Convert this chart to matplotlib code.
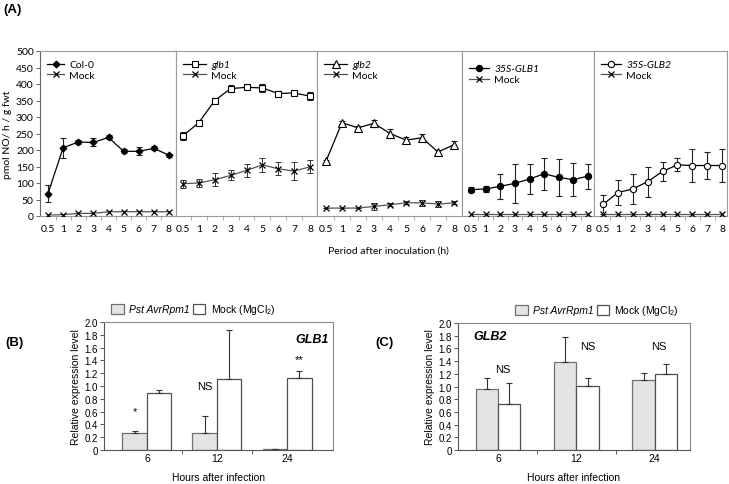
import matplotlib
matplotlib.use('Agg')
import matplotlib.pyplot as plt
import numpy as np
from matplotlib.patches import Patch
from matplotlib.lines import Line2D

plt.rcParams['mathtext.fontset'] = 'custom'
plt.rcParams['mathtext.rm'] = 'Liberation Sans'

W, H = 729, 485
fig = plt.figure(figsize=(W / 100, H / 100), dpi=100)


def rect(x0, y0, x1, y1):
    return [x0 / W, 1 - y1 / H, (x1 - x0) / W, (y1 - y0) / H]


# ---------------- data ----------------
time_labels = ['0.5', '1', '2', '3', '4', '5', '6', '7', '8']

col0 = [68, 207, 224, 223, 238, 196, 196, 205, 184]
col0_err = [25, 30, 6, 12, 6, 6, 12, 6, 4]
col0_mock = [3, 4, 8, 8, 13, 13, 13, 13, 13]

glb1 = [243, 283, 350, 386, 390, 388, 371, 373, 363]
glb1_err = [12, 5, 8, 10, 5, 12, 8, 4, 12]
glb1_mock = [98, 100, 110, 123, 138, 155, 143, 136, 149]
glb1_mock_err = [12, 12, 20, 15, 20, 22, 20, 28, 20]

glb2 = [166, 283, 267, 281, 250, 230, 237, 194, 216]
glb2_err = [4, 5, 7, 10, 15, 8, 10, 5, 10]
glb2_mock = [24, 24, 24, 29, 34, 40, 40, 36, 40]
glb2_mock_err = [0, 0, 0, 10, 4, 5, 10, 10, 5]

ox1 = [80, 82, 90, 99, 112, 128, 117, 110, 121]
ox1_err = [8, 10, 38, 60, 45, 48, 55, 50, 38]
ox1_mock = [5, 5, 5, 5, 5, 5, 5, 5, 5]

ox2 = [35, 71, 82, 104, 135, 155, 153, 153, 153]
ox2_err = [30, 38, 45, 45, 30, 20, 50, 42, 50]
ox2_mock = [5, 5, 5, 5, 5, 5, 5, 5, 5]

hours = ['6', '12', '24']
glb1_pst = [0.26, 0.26, 0.01]
glb1_pst_err = [0.03, 0.27, 0.0]
glb1_mgcl = [0.89, 1.11, 1.12]
glb1_mgcl_err = [0.05, 0.77, 0.11]
glb1_sig = ['*', 'NS', '**']

glb2_pst = [0.96, 1.39, 1.11]
glb2_pst_err = [0.18, 0.39, 0.11]
glb2_mgcl = [0.72, 1.01, 1.19]
glb2_mgcl_err = [0.33, 0.13, 0.17]
glb2_sig = ['NS', 'NS', 'NS']

# ---------------- panel A ----------------
fontA = 'Lato'
fsA = 7.5
frame_col = '#9a9a9a'

panels = [
    # name, values, err, mock, mock_err, marker, mfc, ms, frame x0, x1, first pt px, last pt px, handlelen, legend y
    ('Col-0', col0, col0_err, col0_mock, None, 'D', 'black', 3.5, 40, 176, 48, 169, 1.6, 0.99),
    ('glb1', glb1, glb1_err, glb1_mock, glb1_mock_err, 's', 'white', 5, 176, 317, 183, 310, 2.2, 0.99),
    ('glb2', glb2, glb2_err, glb2_mock, glb2_mock_err, '^', 'white', 5.5, 317, 462, 326, 454, 2.2, 0.99),
    ('35S-GLB1', ox1, ox1_err, ox1_mock, None, 'o', 'black', 4.5, 462, 594, 471, 588, 1.9, 0.965),
    ('35S-GLB2', ox2, ox2_err, ox2_mock, None, 'o', 'white', 4.5, 594, 727, 603, 722, 1.9, 0.99),
]

pos = np.arange(len(time_labels))
for i, (name, vals, err, mock, merr, mk, mfc, ms, fx0, fx1, p0, p8, hl, ly) in enumerate(panels):
    ax = fig.add_axes(rect(fx0, 52, fx1, 217))
    sc = (p8 - p0) / 8.0
    ax.set_xlim((fx0 - p0) / sc, (fx1 - p0) / sc)
    ax.set_ylim(0, 500)
    # mock
    if merr is not None:
        ax.errorbar(pos, mock, yerr=merr, fmt='none', ecolor='#333333',
                    elinewidth=0.7, capsize=2, capthick=0.7, zorder=2)
    ax.plot(pos, mock, color='#555555', lw=0.9, marker='x', ms=4.5,
            mec='black', mew=0.9, zorder=3)
    # main
    ax.errorbar(pos, vals, yerr=err, fmt='none', ecolor='#222222',
                elinewidth=0.8, capsize=2, capthick=0.8, zorder=4)
    ax.plot(pos, vals, color='black', lw=0.9, marker=mk, ms=ms, mfc=mfc,
            mec='black', mew=0.8, zorder=5)

    h1 = Line2D([], [], color='black', lw=0.9, marker=mk, ms=ms, mfc=mfc, mec='black', mew=0.8)
    h2 = Line2D([], [], color='#555555', lw=0.9, marker='x', ms=4.5, mec='black', mew=0.9)
    leg = ax.legend([h1, h2], [name, 'Mock'], loc='upper left',
                    bbox_to_anchor=(0.0, ly), borderaxespad=0.3, borderpad=0.4,
                    frameon=False, handlelength=hl, handletextpad=0.5,
                    labelspacing=0.15, prop={'family': fontA, 'size': fsA})
    if i > 0:
        for t in leg.get_texts()[:1]:
            t.set_fontstyle('italic')

    for s in ax.spines.values():
        s.set_color(frame_col)
        s.set_linewidth(0.8)
    ax.set_xticks(pos)
    ax.set_xticklabels(time_labels, family=fontA, fontsize=fsA)
    ax.set_xticks(pos[:-1] + 0.5, minor=True)
    ax.tick_params(axis='x', which='major', length=0, pad=6)
    ax.tick_params(axis='x', which='minor', length=3, color=frame_col, width=0.6)
    if i == 0:
        ax.set_yticks(np.arange(0, 501, 50))
        ax.tick_params(axis='y', length=3, color='#666666', width=0.7, pad=1.5,
                       labelsize=fsA)
        for t in ax.get_yticklabels():
            t.set_family(fontA)
        ax.spines['left'].set_color('#666666')
        ax.set_ylabel('pmol NO/ h / g fwt', family=fontA, fontsize=fsA, labelpad=3)
    else:
        ax.set_yticks([])

fig.text(388 / W, 1 - 251 / H, 'Period after inoculation (h)', family=fontA,
         fontsize=fsA, ha='center', va='center')

# ---------------- panels B & C ----------------
fontB = 'Liberation Sans'
gray_fill = '#e4e4e4'


def bar_panel(ax, pst, pst_err, mgcl, mgcl_err, sig, sig_pos, gene, gene_pos, width, xlim, leg_x):
    x = np.arange(len(hours))
    ax.bar(x - width / 2, pst, width, color=gray_fill, edgecolor='#707070', lw=0.9, zorder=2)
    ax.bar(x + width / 2, mgcl, width, color='white', edgecolor='#505050', lw=0.9, zorder=2)
    ax.errorbar(x - width / 2, pst, yerr=[np.zeros(len(x)), pst_err], fmt='none',
                ecolor='#333333', elinewidth=0.8, capsize=2.5, capthick=0.8, zorder=3)
    ax.errorbar(x + width / 2, mgcl, yerr=[np.zeros(len(x)), mgcl_err], fmt='none',
                ecolor='#333333', elinewidth=0.8, capsize=2.5, capthick=0.8, zorder=3)
    for xi, (s, (dx, yy)) in enumerate(zip(sig, sig_pos)):
        ax.text(xi + dx, yy, s, family=fontB, fontsize=8, ha='center', va='center')
    ax.text(gene_pos[0], gene_pos[1], gene, family=fontB, fontsize=9,
            fontweight='bold', fontstyle='italic', ha='center', va='center')
    ax.set_xlim(*xlim)
    ax.set_ylim(0, 2.0)
    ax.set_yticks(np.arange(0, 2.01, 0.2))
    ax.set_yticklabels(['0'] + ['%.1f' % v for v in np.arange(0.2, 2.01, 0.2)])
    ax.set_xticks(x)
    ax.set_xticklabels(hours)
    ax.set_xticks(x[:-1] + 0.5, minor=True)
    ax.tick_params(axis='x', which='major', length=0, pad=2, labelsize=7.5)
    ax.tick_params(axis='x', which='minor', length=3, width=0.7, color='#555555')
    ax.tick_params(axis='y', length=3, width=0.7, color='#555555', pad=1.5, labelsize=7)
    for t in ax.get_xticklabels() + ax.get_yticklabels():
        t.set_family(fontB)
    for k, s in ax.spines.items():
        s.set_linewidth(0.8)
        s.set_color('#555555' if k in ('left', 'bottom') else '#8a8a8a')
    ax.set_ylabel('Relative expression level', family=fontB, fontsize=7.5, labelpad=2)
    ax.set_xlabel('Hours after infection', family=fontB, fontsize=7.5, labelpad=7)
    handles = [Patch(facecolor=gray_fill, edgecolor='#707070', lw=0.9),
               Patch(facecolor='white', edgecolor='#505050', lw=0.9)]
    leg = ax.legend(handles, ['Pst AvrRpm1', 'Mock (MgCl$_2$)'], ncol=2,
                    loc='center', bbox_to_anchor=(leg_x, 1.1), frameon=False,
                    handlelength=1.2, handleheight=1.1, handletextpad=0.5,
                    columnspacing=0.3, borderaxespad=0,
                    prop={'family': fontB, 'size': 7.5})
    leg.get_texts()[0].set_fontstyle('italic')


axB = fig.add_axes(rect(104, 323, 333, 451))
bar_panel(axB, glb1_pst, glb1_pst_err, glb1_mgcl, glb1_mgcl_err, glb1_sig,
          [(-0.17, 0.61), (-0.17, 1.0), (0.17, 1.42)], 'GLB1', (2.36, 1.74),
          0.35, (-0.614, 2.657), 0.39)

axC = fig.add_axes(rect(458, 324, 690, 451))
bar_panel(axC, glb2_pst, glb2_pst_err, glb2_mgcl, glb2_mgcl_err, glb2_sig,
          [(0.06, 1.27), (0.14, 1.63), (0.05, 1.63)], 'GLB2', (-0.1, 1.8),
          0.285, (-0.51, 2.45), 0.60)

fig.text(3 / W, 1 - 10 / H, '(A)', family=fontB, fontsize=9.5, fontweight='bold', va='center')
fig.text(5 / W, 1 - 343 / H, '(B)', family=fontB, fontsize=9.5, fontweight='bold', va='center')
fig.text(375 / W, 1 - 343 / H, '(C)', family=fontB, fontsize=9.5, fontweight='bold', va='center')

fig.savefig('out.png', dpi=100)
